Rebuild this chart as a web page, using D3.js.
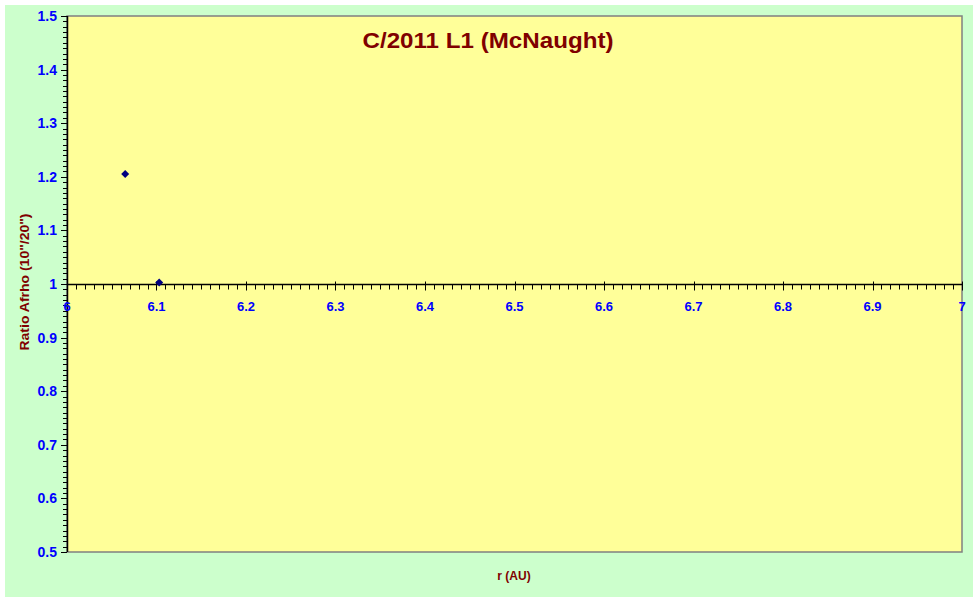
<!DOCTYPE html>
<html><head><meta charset="utf-8">
<script src="https://cdn.jsdelivr.net/npm/d3@7"></script>
<style>body{margin:0;background:#fff;}svg{display:block;}</style>
</head><body>
<script>
const rValues = [6.065, 6.103];
const ratioValues = [1.205, 1.003];
const xTicks = [6, 6.1, 6.2, 6.3, 6.4, 6.5, 6.6, 6.7, 6.8, 6.9, 7];
const yTicks = [0.5, 0.6, 0.7, 0.8, 0.9, 1, 1.1, 1.2, 1.3, 1.4, 1.5];
const title = "C/2011 L1 (McNaught)";
const xLabel = "r (AU)";
const yLabel = "Ratio Afrho (10\"/20\")";

const W = 978, H = 601;
const svg = d3.select("body").append("svg").attr("width", W).attr("height", H);
svg.append("rect").attr("x", 5).attr("y", 5).attr("width", 968).attr("height", 592).attr("fill", "#CCFFCC");

const L = 67, T = 16, R = 962, B = 552;
const x = d3.scaleLinear().domain([6, 7]).range([L, R]);
const y = d3.scaleLinear().domain([0.5, 1.5]).range([B, T]);

svg.append("rect").attr("x", L).attr("y", T).attr("width", R - L).attr("height", B - T)
  .attr("fill", "#FFFF99").attr("stroke", "#808080").attr("stroke-width", 1.5);

const font = "Arial, 'Liberation Sans', sans-serif";
// Y axis
const yMinor = d3.range(50, 151).map(v => v / 100);
const yAxisG = svg.append("g");
yAxisG.selectAll("line.mt").data(yMinor).join("line")
  .attr("x1", L - 4).attr("x2", L)
  .attr("y1", d => Math.round(y(d)) + 0.5).attr("y2", d => Math.round(y(d)) + 0.5)
  .attr("stroke", "#000").attr("stroke-width", 1);
yAxisG.selectAll("line.Mt").data(yTicks).join("line")
  .attr("x1", L - 6).attr("x2", L)
  .attr("y1", d => Math.round(y(d)) + 0.5).attr("y2", d => Math.round(y(d)) + 0.5)
  .attr("stroke", "#000").attr("stroke-width", 1);
yAxisG.append("line").attr("x1", L + 0.5).attr("x2", L + 0.5).attr("y1", T).attr("y2", B)
  .attr("stroke", "#000").attr("stroke-width", 1.5);
yAxisG.selectAll("text").data(yTicks).join("text")
  .attr("x", L - 10).attr("y", d => y(d) + 5)
  .attr("text-anchor", "end").attr("fill", "#0000FF")
  .attr("font-family", font).attr("font-weight", "bold").attr("font-size", 14)
  .text(d => d3.format("~g")(d));

// X axis at y = 1
const y0 = Math.round(y(1)) + 0.5;
const xMinor = d3.range(600, 701).map(v => v / 100);
const xAxisG = svg.append("g");
xAxisG.selectAll("line.mt").data(xMinor).join("line")
  .attr("x1", d => Math.round(x(d)) + 0.5).attr("x2", d => Math.round(x(d)) + 0.5)
  .attr("y1", y0).attr("y2", y0 + 5)
  .attr("stroke", "#000").attr("stroke-width", 1);
xAxisG.selectAll("line.Mt").data(xTicks).join("line")
  .attr("x1", d => Math.round(x(d)) + 0.5).attr("x2", d => Math.round(x(d)) + 0.5)
  .attr("y1", y0 - 3).attr("y2", y0 + 6)
  .attr("stroke", "#000").attr("stroke-width", 1);
xAxisG.append("line").attr("x1", L).attr("x2", R).attr("y1", y0).attr("y2", y0)
  .attr("stroke", "#000").attr("stroke-width", 1.5);
xAxisG.selectAll("text").data(xTicks).join("text")
  .attr("x", d => x(d)).attr("y", y0 + 26)
  .attr("text-anchor", "middle").attr("fill", "#0000FF")
  .attr("font-family", font).attr("font-weight", "bold").attr("font-size", 13)
  .text(d => d3.format("~g")(d));

// Points (diamonds)
svg.selectAll("path.pt").data(rValues.map((r, i) => [r, ratioValues[i]])).join("path")
  .attr("transform", d => `translate(${x(d[0])},${y(d[1])})`)
  .attr("d", "M0,-4L4,0L0,4L-4,0Z").attr("fill", "#000080");

// Title & labels
svg.append("text").attr("x", 488).attr("y", 48).attr("text-anchor", "middle")
  .attr("fill", "#800000").attr("font-family", font).attr("font-weight", "bold").attr("font-size", 22)
  .attr("textLength", 251).attr("lengthAdjust", "spacingAndGlyphs")
  .text(title);
svg.append("text").attr("x", 514).attr("y", 580).attr("text-anchor", "middle")
  .attr("fill", "#800000").attr("font-family", font).attr("font-weight", "bold").attr("font-size", 12)
  .text(xLabel);
svg.append("text").attr("transform", "translate(29,282) rotate(-90)").attr("text-anchor", "middle")
  .attr("fill", "#800000").attr("font-family", font).attr("font-weight", "bold").attr("font-size", 13)
  .attr("textLength", 137).attr("lengthAdjust", "spacingAndGlyphs")
  .text(yLabel);
</script>
</body></html>
